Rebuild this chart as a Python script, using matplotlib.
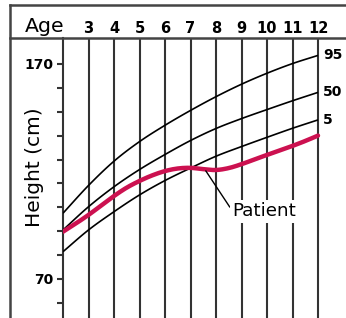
import matplotlib
matplotlib.use("Agg")
import matplotlib.pyplot as plt
from matplotlib.lines import Line2D
from matplotlib.transforms import blended_transform_factory
import numpy as np

# ---- data ----
ages = [2, 3, 4, 5, 6, 7, 8, 9, 10, 11, 12]
p95 = [100.6, 113.5, 124.8, 133.9, 141.5, 148.4, 154.8, 160.6, 165.7, 170.2, 174.0]
p50 = [92.8, 103.6, 112.9, 120.9, 127.9, 134.4, 140.0, 144.6, 148.8, 152.9, 156.8]
p5 = [82.7, 92.8, 101.3, 109.1, 115.8, 121.6, 127.1, 131.6, 135.9, 140.1, 144.0]
pct_labels = ["95", "50", "5"]

patient_ages = [2, 2.5, 3, 3.5, 4, 4.5, 5, 5.5, 6, 6.5, 7, 7.5, 8, 8.5, 9, 9.5, 10, 10.5, 11, 11.5, 12]
patient_h = [92.0, 95.8, 99.8, 104.2, 108.6, 112.5, 115.6, 118.2, 120.2, 121.4, 121.7, 121.1,
             120.7, 121.6, 123.4, 125.6, 127.7, 129.8, 131.9, 134.2, 136.7]

header_ages = [3, 4, 5, 6, 7, 8, 9, 10, 11, 12]
ytick_vals = [170 - k * 100 / 9 for k in range(11)]
ytick_labels = ["170", "", "", "", "", "", "", "", "", "70", ""]


def smooth(xs, ys, n=12):
    """Catmull-Rom rendering through the read points (drawing only)."""
    xs = np.asarray(xs, float)
    ys = np.asarray(ys, float)
    P = np.column_stack([xs, ys])
    P = np.vstack([2 * P[0] - P[1], P, 2 * P[-1] - P[-2]])
    out = []
    for i in range(1, len(P) - 2):
        p0, p1, p2, p3 = P[i - 1], P[i], P[i + 1], P[i + 2]
        t = np.linspace(0, 1, n, endpoint=False)[:, None]
        seg = 0.5 * ((2 * p1) + (-p0 + p2) * t + (2 * p0 - 5 * p1 + 4 * p2 - p3) * t ** 2
                     + (-p0 + 3 * p1 - 3 * p2 + p3) * t ** 3)
        out.append(seg)
    out.append(P[-2][None, :])
    out = np.vstack(out)
    return out[:, 0], out[:, 1]


W, H = 346, 318
fig = plt.figure(figsize=(W / 100, H / 100), dpi=100)
fig.patch.set_facecolor("white")

ax_left, ax_right, ax_top, ax_bottom = 63, 346, 38, 318
ax = fig.add_axes([ax_left / W, 1 - ax_bottom / H, (ax_right - ax_left) / W, (ax_bottom - ax_top) / H])
px_per_year = 25.5
px_per_cm = 2.15
ax.set_xlim(2, 12 + (ax_right - 318) / px_per_year)
ax.set_ylim(170 - (ax_bottom - 64) / px_per_cm, 170 + (64 - ax_top) / px_per_cm)

grid_col = "#333333"
for s in ["top", "right", "bottom"]:
    ax.spines[s].set_visible(False)
ax.spines["left"].set_color(grid_col)
ax.spines["left"].set_linewidth(1.5)

for a in header_ages:
    ax.axvline(a, color=grid_col, lw=1.5, zorder=1)

ax.set_xticks([])
ax.set_yticks(ytick_vals)
ax.set_yticklabels(ytick_labels, fontsize=10, fontweight="bold", family="DejaVu Sans")
ax.tick_params(axis="y", length=4, width=1.5, color=grid_col, pad=3)

for vals, lab in zip([p95, p50, p5], pct_labels):
    sx, sy = smooth(ages, vals)
    ax.plot(sx, sy, color="black", lw=1.2, zorder=3, solid_capstyle="butt")
    ax.text(12.2, vals[-1], lab, fontsize=10, fontweight="bold", ha="left", va="center",
            family="DejaVu Sans", clip_on=False)

sx, sy = smooth(patient_ages, patient_h, n=8)
ax.plot(sx, sy, color="#cc1150", lw=3.2, zorder=4, solid_capstyle="round",
        solid_joinstyle="round")

ax.annotate("Patient", xy=(7.6, 120.3), xytext=(8.65, 101.5), fontsize=13.2,
            family="DejaVu Sans", ha="left", va="center",
            bbox=dict(boxstyle="square,pad=0.15", fc="white", ec="none"),
            arrowprops=dict(arrowstyle="-", color="black", lw=1.0, shrinkA=0, shrinkB=0,
                            relpos=(0, 0.5)), zorder=5)

trans = blended_transform_factory(ax.transData, fig.transFigure)
for a in header_ages:
    ax.text(a, 1 - 33 / H, str(a), transform=trans, ha="center", va="baseline",
            fontsize=10.5, fontweight="bold", family="DejaVu Sans", clip_on=False)

fig.text(25 / W, 1 - 32 / H, "Age", fontsize=14.7, ha="left", va="baseline", family="DejaVu Sans")
fig.text(34 / W, 1 - 167 / H, "Height (cm)", fontsize=14.5, rotation=90, ha="center", va="center",
         family="DejaVu Sans")


def fl(xs, ys, lw=1.8):
    fig.add_artist(Line2D([x / W for x in xs], [1 - y / H for y in ys], transform=fig.transFigure,
                          color="#444444", lw=lw))


fl([10, 10], [5, 318])
fl([10, 346], [5, 5])
fl([10, 346], [38, 38])

fig.savefig("out.png", dpi=100, facecolor="white")
